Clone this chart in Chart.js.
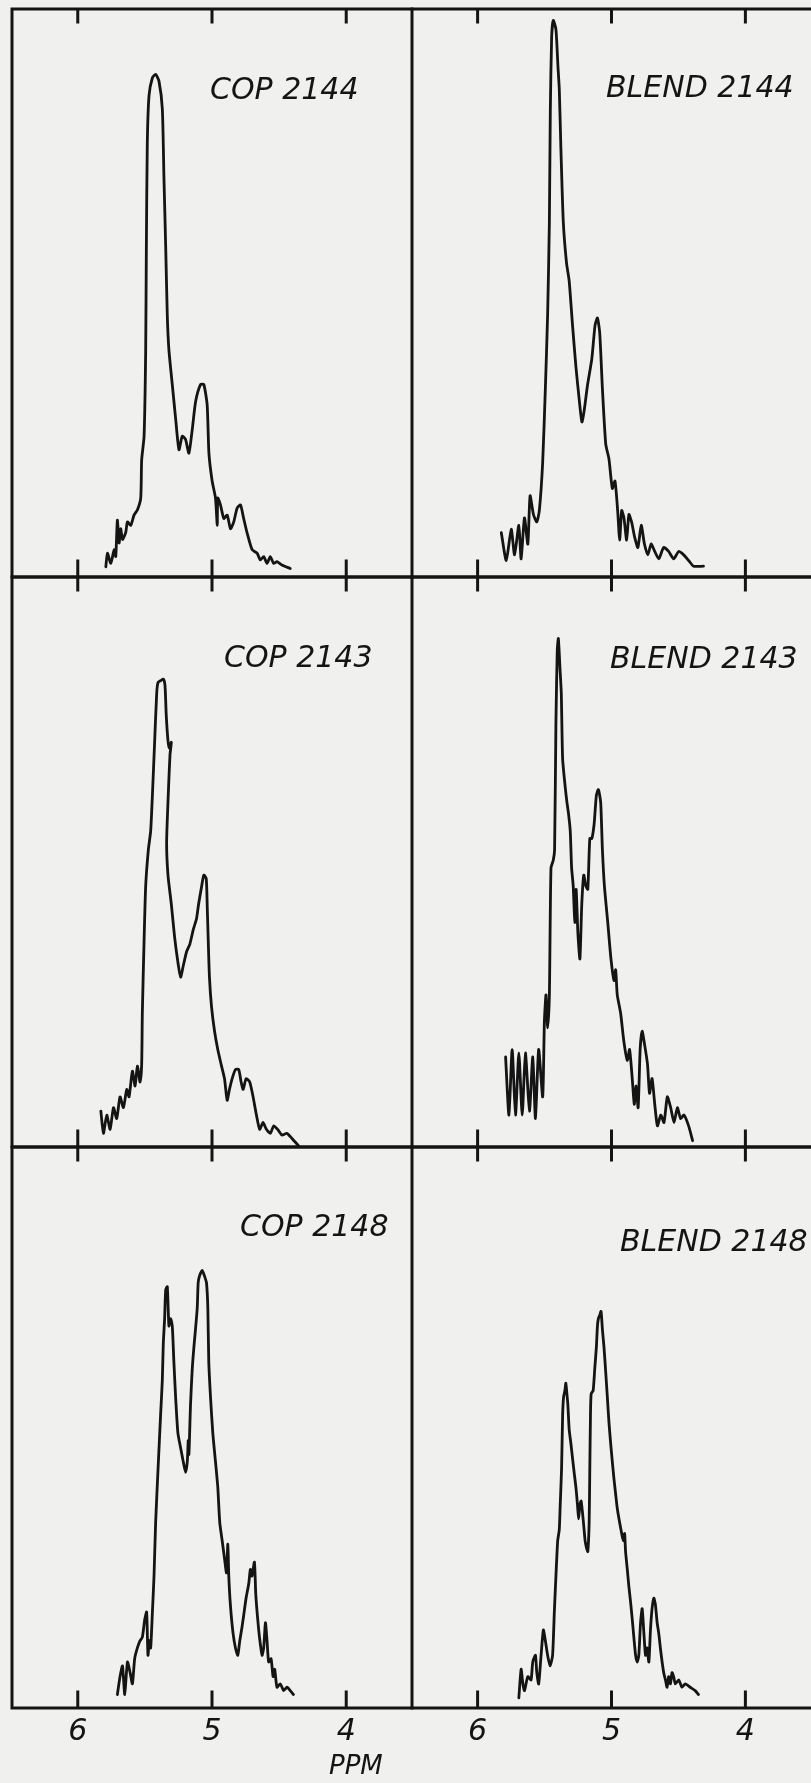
<!DOCTYPE html>
<html>
<head>
<meta charset="utf-8">
<script src="https://cdn.jsdelivr.net/npm/chart.js@4.4.1/dist/chart.umd.min.js"></script>
<style>
  html, body { margin: 0; padding: 0; background: #f0f0ee; }
  body { width: 811px; height: 1783px; position: relative; overflow: hidden; }
  .panel { position: absolute; }
  #ppmLabel {
    position: absolute; left: 329px; top: 1752px;
    font: italic 26px "DejaVu Sans", sans-serif; line-height: 26px; color: #141414;
  }
</style>
</head>
<body>
<div id="panels"></div>
<div id="ppmLabel">PPM</div>

<script>
// chemical shift axis (ppm), shared by every panel
const ppmMin = 3.51;
const ppmMax = 6.49;
const ppmTicks = [6, 5, 4];

// spectra: chemical shift (ppm) and relative intensity (% of panel height)
const cop2144Ppm = [5.791, 5.779, 5.754, 5.729, 5.717, 5.705, 5.692, 5.680, 5.667, 5.643, 5.630, 5.605, 5.581, 5.556, 5.531, 5.524, 5.506, 5.494, 5.489, 5.482, 5.469, 5.444, 5.420, 5.395, 5.370, 5.358, 5.345, 5.333, 5.321, 5.296, 5.271, 5.246, 5.222, 5.197, 5.172, 5.147, 5.122, 5.085, 5.061, 5.036, 5.023, 4.999, 4.974, 4.961, 4.957, 4.937, 4.912, 4.887, 4.862, 4.838, 4.813, 4.788, 4.764, 4.739, 4.701, 4.664, 4.640, 4.615, 4.590, 4.566, 4.541, 4.516, 4.479, 4.417];
const cop2144Int = [1.8, 4.2, 2.4, 4.8, 3.6, 10.0, 6.0, 8.5, 6.6, 7.8, 9.7, 9.1, 10.9, 11.8, 13.9, 20.6, 24.8, 40.0, 58.2, 76.4, 84.8, 87.9, 88.5, 87.3, 82.4, 70.3, 58.2, 46.0, 40.0, 33.9, 27.9, 22.4, 24.8, 24.2, 21.8, 26.0, 30.9, 33.9, 33.9, 30.3, 21.8, 16.9, 13.9, 9.1, 13.9, 12.7, 10.3, 10.9, 8.5, 9.7, 12.1, 12.7, 10.3, 7.8, 4.8, 4.2, 3.0, 3.6, 2.4, 3.6, 2.4, 2.7, 2.1, 1.5];

const blend2144Ppm = [5.823, 5.786, 5.749, 5.724, 5.692, 5.675, 5.650, 5.625, 5.608, 5.583, 5.558, 5.539, 5.514, 5.494, 5.477, 5.464, 5.457, 5.447, 5.435, 5.415, 5.400, 5.390, 5.378, 5.360, 5.336, 5.316, 5.291, 5.266, 5.241, 5.221, 5.204, 5.179, 5.147, 5.123, 5.105, 5.088, 5.068, 5.043, 5.019, 4.994, 4.974, 4.954, 4.939, 4.924, 4.907, 4.887, 4.870, 4.850, 4.828, 4.803, 4.778, 4.754, 4.729, 4.704, 4.677, 4.647, 4.610, 4.573, 4.536, 4.498, 4.461, 4.424, 4.387, 4.313];
const blend2144Int = [7.8, 2.9, 8.4, 3.9, 9.1, 3.2, 10.4, 5.8, 14.3, 11.0, 9.7, 11.7, 20.2, 33.2, 46.2, 62.5, 82.0, 95.1, 98.0, 96.4, 89.9, 85.9, 75.5, 62.5, 55.3, 52.1, 44.3, 37.1, 31.2, 27.3, 29.3, 33.8, 38.4, 44.3, 45.6, 43.0, 33.2, 23.4, 20.8, 15.6, 16.9, 11.7, 6.5, 11.7, 10.4, 6.5, 11.0, 9.7, 7.1, 5.2, 9.1, 5.8, 3.9, 5.8, 4.5, 3.2, 5.2, 4.5, 3.2, 4.5, 3.9, 2.9, 1.9, 1.9];

const cop2143Ppm = [5.828, 5.809, 5.784, 5.759, 5.734, 5.710, 5.685, 5.660, 5.635, 5.618, 5.593, 5.573, 5.556, 5.536, 5.524, 5.519, 5.506, 5.494, 5.474, 5.457, 5.444, 5.427, 5.412, 5.402, 5.383, 5.363, 5.350, 5.341, 5.328, 5.318, 5.303, 5.313, 5.326, 5.338, 5.328, 5.303, 5.279, 5.254, 5.234, 5.214, 5.189, 5.165, 5.140, 5.115, 5.100, 5.081, 5.061, 5.043, 5.036, 5.028, 5.019, 5.004, 4.981, 4.957, 4.932, 4.907, 4.887, 4.870, 4.850, 4.825, 4.801, 4.783, 4.768, 4.746, 4.719, 4.694, 4.669, 4.645, 4.620, 4.595, 4.565, 4.541, 4.511, 4.479, 4.442, 4.404, 4.355];
const cop2143Int = [6.3, 2.4, 5.6, 3.1, 6.9, 5.0, 8.8, 6.9, 10.1, 8.8, 13.3, 10.7, 14.2, 11.4, 14.5, 23.5, 36.2, 45.8, 52.2, 55.4, 61.7, 71.3, 79.6, 81.5, 81.8, 82.1, 80.9, 75.8, 71.3, 70.0, 71.0, 68.8, 61.7, 53.4, 47.7, 42.6, 36.9, 32.4, 29.8, 31.8, 34.3, 35.6, 38.1, 40.1, 42.6, 45.2, 47.7, 47.1, 42.6, 36.2, 29.8, 24.7, 20.3, 17.1, 14.5, 12.0, 8.2, 10.1, 12.0, 13.6, 13.6, 11.4, 10.1, 12.0, 11.4, 8.8, 5.6, 3.1, 4.3, 3.1, 2.4, 3.7, 3.1, 2.1, 2.4, 1.5, 0.2];

const blend2143Ppm = [5.791, 5.766, 5.742, 5.717, 5.692, 5.667, 5.643, 5.613, 5.588, 5.568, 5.544, 5.514, 5.501, 5.489, 5.477, 5.464, 5.452, 5.435, 5.425, 5.415, 5.405, 5.397, 5.385, 5.375, 5.365, 5.345, 5.333, 5.321, 5.308, 5.298, 5.286, 5.274, 5.264, 5.251, 5.236, 5.222, 5.207, 5.192, 5.177, 5.162, 5.147, 5.130, 5.113, 5.098, 5.081, 5.068, 5.053, 5.028, 5.004, 4.981, 4.969, 4.957, 4.932, 4.907, 4.882, 4.865, 4.845, 4.830, 4.816, 4.801, 4.786, 4.771, 4.751, 4.731, 4.716, 4.697, 4.677, 4.657, 4.632, 4.608, 4.583, 4.558, 4.533, 4.508, 4.484, 4.459, 4.424, 4.394];
const blend2143Int = [15.8, 5.6, 17.1, 5.6, 16.5, 5.6, 16.5, 6.3, 15.8, 5.0, 17.1, 8.8, 22.2, 26.7, 20.9, 26.7, 49.0, 50.3, 52.2, 74.5, 87.2, 89.2, 84.1, 79.6, 68.1, 63.0, 60.5, 58.5, 55.4, 49.0, 45.8, 39.4, 45.2, 37.5, 33.0, 42.6, 47.7, 45.8, 45.2, 54.1, 54.1, 56.6, 61.7, 62.7, 60.5, 52.2, 45.8, 39.4, 33.0, 29.2, 31.1, 26.7, 23.5, 18.4, 15.2, 17.1, 12.0, 7.5, 10.7, 6.9, 17.1, 20.3, 17.7, 14.5, 9.4, 12.0, 7.5, 3.7, 5.6, 4.3, 8.8, 6.9, 4.3, 6.9, 5.0, 5.6, 3.7, 1.1];

const cop2148Ppm = [5.705, 5.685, 5.667, 5.650, 5.630, 5.610, 5.593, 5.576, 5.556, 5.536, 5.519, 5.501, 5.487, 5.477, 5.467, 5.457, 5.444, 5.432, 5.420, 5.402, 5.383, 5.370, 5.363, 5.353, 5.345, 5.333, 5.321, 5.308, 5.296, 5.284, 5.271, 5.254, 5.234, 5.214, 5.197, 5.184, 5.177, 5.172, 5.160, 5.147, 5.135, 5.123, 5.110, 5.103, 5.093, 5.073, 5.056, 5.041, 5.031, 5.024, 5.011, 4.994, 4.974, 4.957, 4.942, 4.924, 4.907, 4.892, 4.882, 4.875, 4.863, 4.843, 4.825, 4.808, 4.793, 4.776, 4.764, 4.746, 4.726, 4.714, 4.702, 4.684, 4.674, 4.664, 4.652, 4.640, 4.627, 4.615, 4.602, 4.590, 4.578, 4.560, 4.545, 4.533, 4.516, 4.491, 4.466, 4.441, 4.417, 4.393];
const cop2148Int = [2.4, 5.6, 7.5, 2.4, 8.2, 6.3, 4.3, 8.8, 10.7, 12.0, 12.6, 15.8, 17.1, 9.4, 12.0, 10.7, 17.1, 23.5, 33.0, 42.6, 52.2, 58.5, 64.9, 69.4, 74.5, 75.1, 68.1, 69.4, 68.1, 61.7, 55.4, 49.0, 46.4, 43.9, 42.0, 43.9, 47.7, 45.2, 54.1, 60.5, 64.3, 67.5, 71.3, 75.8, 77.0, 78.0, 77.0, 75.8, 71.3, 61.7, 55.4, 49.0, 43.9, 39.4, 33.0, 29.8, 26.7, 24.1, 29.2, 23.5, 18.4, 13.3, 10.7, 9.4, 12.0, 14.5, 16.5, 19.6, 22.2, 24.7, 23.5, 26.0, 20.3, 17.1, 13.9, 11.4, 9.4, 10.7, 15.2, 12.0, 8.2, 8.8, 5.6, 6.9, 3.7, 4.3, 3.1, 3.7, 3.1, 2.4];

const blend2148Ppm = [5.692, 5.675, 5.662, 5.650, 5.625, 5.601, 5.588, 5.568, 5.558, 5.544, 5.526, 5.509, 5.494, 5.477, 5.459, 5.440, 5.427, 5.415, 5.402, 5.390, 5.383, 5.373, 5.365, 5.358, 5.348, 5.341, 5.333, 5.326, 5.316, 5.303, 5.291, 5.279, 5.266, 5.254, 5.246, 5.236, 5.227, 5.217, 5.207, 5.197, 5.187, 5.177, 5.167, 5.162, 5.157, 5.152, 5.137, 5.125, 5.113, 5.105, 5.098, 5.088, 5.078, 5.068, 5.056, 5.043, 5.031, 5.019, 5.006, 4.994, 4.981, 4.969, 4.957, 4.944, 4.924, 4.912, 4.902, 4.895, 4.882, 4.870, 4.858, 4.845, 4.833, 4.820, 4.808, 4.796, 4.783, 4.771, 4.758, 4.746, 4.734, 4.721, 4.709, 4.697, 4.684, 4.672, 4.659, 4.647, 4.635, 4.622, 4.610, 4.597, 4.585, 4.573, 4.560, 4.548, 4.536, 4.523, 4.498, 4.474, 4.449, 4.412, 4.375, 4.350];
const blend2148Int = [1.8, 6.9, 4.3, 3.1, 5.6, 5.0, 8.2, 9.4, 6.3, 4.3, 9.4, 13.9, 12.0, 9.4, 7.5, 9.4, 17.1, 23.5, 29.8, 31.8, 36.2, 42.6, 52.2, 55.4, 56.6, 57.9, 56.0, 54.1, 49.6, 47.1, 44.5, 42.0, 39.4, 36.2, 33.7, 36.2, 36.9, 34.9, 32.4, 29.8, 28.6, 27.9, 33.0, 42.6, 52.2, 56.0, 56.6, 60.5, 64.3, 68.1, 69.4, 70.0, 70.7, 67.5, 64.3, 59.8, 55.4, 50.9, 47.1, 43.9, 40.7, 38.1, 35.6, 33.7, 31.1, 29.8, 31.1, 27.9, 24.7, 21.6, 19.0, 15.8, 12.6, 9.4, 8.2, 9.4, 15.2, 17.7, 13.3, 9.4, 10.7, 8.2, 13.9, 17.7, 19.6, 18.4, 15.2, 13.3, 10.7, 8.2, 6.3, 5.0, 3.7, 5.6, 4.3, 6.3, 5.6, 4.3, 5.0, 3.7, 4.3, 3.7, 3.1, 2.4];

const panelTitles = ['COP 2144', 'BLEND 2144', 'COP 2143', 'BLEND 2143', 'COP 2148', 'BLEND 2148'];
const panelPpm = [cop2144Ppm, blend2144Ppm, cop2143Ppm, blend2143Ppm, cop2148Ppm, blend2148Ppm];
const panelInt = [cop2144Int, blend2144Int, cop2143Int, blend2143Int, cop2148Int, blend2148Int];

// page layout: plot-area boxes and where each title sits inside its box
const columns = [{ left: 12, width: 400 }, { left: 412, width: 399 }];
const rows = [{ top: 9, height: 568 }, { top: 577, height: 570 }, { top: 1147, height: 561 }];
const titleOffsets = [[198, 90], [194, 88], [212, 90], [198, 91], [228, 89], [208, 104]];

const ink = '#141414';
const pad = 4;
const axisBand = 75;

// frame, inward tick marks and panel title
const panelFrame = {
    id: 'panelFrame',
    afterDraw(chart, _args, opts) {
        const { ctx, chartArea: a } = chart;
        const x = chart.scales.x;
        ctx.save();
        ctx.strokeStyle = ink;
        ctx.lineWidth = 3;
        ctx.lineCap = 'square';
        ctx.beginPath();
        ctx.moveTo(a.left, a.top);
        ctx.lineTo(a.right, a.top);
        ctx.moveTo(a.left, a.bottom);
        ctx.lineTo(a.right, a.bottom);
        ctx.moveTo(a.left, a.top);
        ctx.lineTo(a.left, a.bottom);
        ppmTicks.forEach(function (v) {
            const px = x.getPixelForValue(v);
            ctx.moveTo(px, a.top);
            ctx.lineTo(px, a.top + 13);
            ctx.moveTo(px, a.bottom);
            ctx.lineTo(px, a.bottom - 16);
        });
        ctx.stroke();

        ctx.fillStyle = ink;
        ctx.font = 'italic 30px "DejaVu Sans", sans-serif';
        ctx.textBaseline = 'alphabetic';
        ctx.fillText(opts.text, a.left + opts.dx, a.top + opts.dy);
        ctx.restore();
    }
};

const holder = document.getElementById('panels');

panelTitles.forEach(function (title, i) {
    const col = columns[i % 2];
    const row = rows[Math.floor(i / 2)];
    const isBottom = Math.floor(i / 2) === rows.length - 1;

    const box = document.createElement('div');
    box.className = 'panel';
    box.style.left = (col.left - pad) + 'px';
    box.style.top = (row.top - pad) + 'px';
    box.style.width = (col.width + 2 * pad) + 'px';
    box.style.height = (isBottom ? 1783 - (row.top - pad) : row.height + 2 * pad) + 'px';
    const canvas = document.createElement('canvas');
    box.appendChild(canvas);
    holder.appendChild(box);

    const points = panelPpm[i].map(function (p, k) {
        return { x: p, y: panelInt[i][k] };
    });

    const xAxis = {
        type: 'linear',
        min: ppmMin,
        max: ppmMax,
        reverse: true,
        display: isBottom,
        afterBuildTicks: function (scale) {
            scale.ticks = ppmTicks.map(function (v) { return { value: v }; });
        },
        grid: { display: false, drawTicks: false },
        border: { display: false },
        ticks: {
            color: ink,
            padding: 6,
            maxRotation: 0,
            autoSkip: false,
            font: { family: 'DejaVu Sans', style: 'italic', size: 30 }
        }
    };
    if (isBottom) {
        xAxis.afterFit = function (scale) { scale.height = axisBand; };
    }

    new Chart(canvas, {
        type: 'scatter',
        data: {
            datasets: [{
                label: title,
                data: points,
                showLine: true,
                borderColor: ink,
                borderWidth: 2.8,
                pointRadius: 0,
                tension: 0.2,
                borderJoinStyle: 'round',
                borderCapStyle: 'round'
            }]
        },
        options: {
            responsive: true,
            maintainAspectRatio: false,
            animation: false,
            layout: {
                padding: { left: pad, right: pad, top: pad, bottom: isBottom ? 0 : pad }
            },
            plugins: {
                legend: { display: false },
                tooltip: { enabled: false },
                panelFrame: {
                    text: title,
                    dx: titleOffsets[i][0],
                    dy: titleOffsets[i][1]
                }
            },
            scales: {
                x: xAxis,
                y: { type: 'linear', min: 0, max: 100, display: false }
            }
        },
        plugins: [panelFrame]
    });
});
</script>
</body>
</html>
